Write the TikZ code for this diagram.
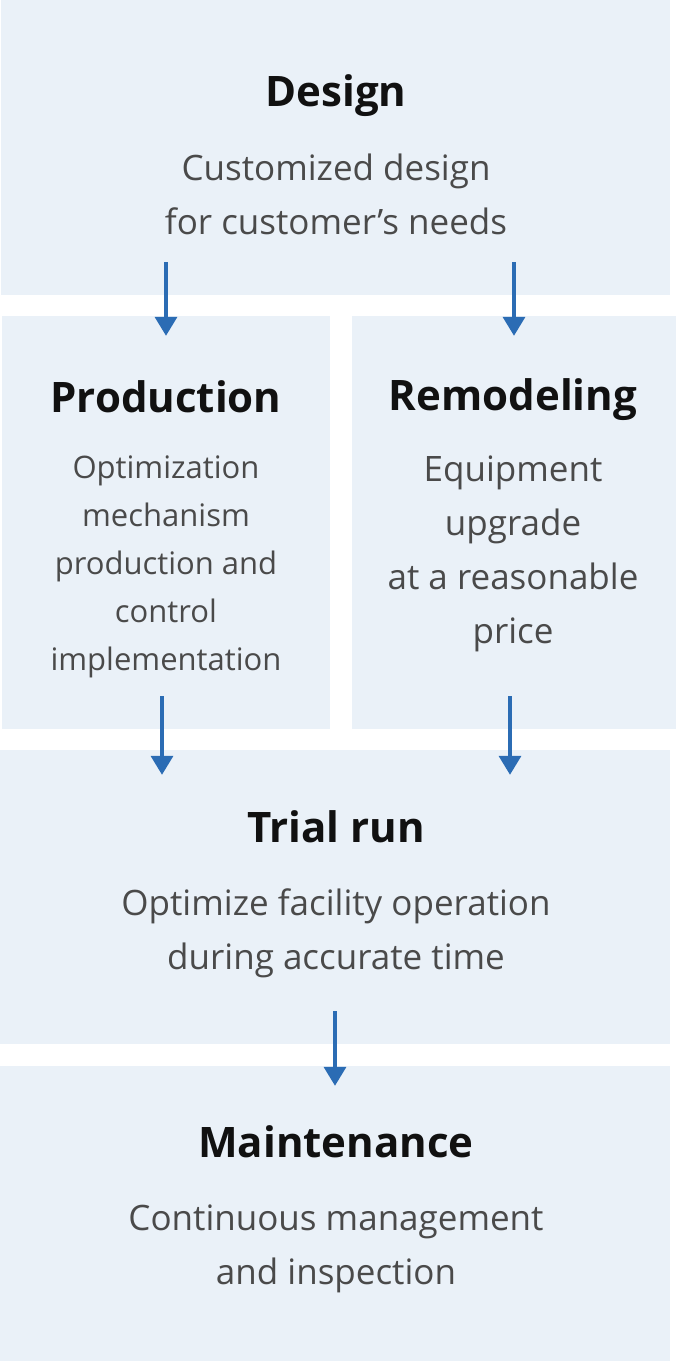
\documentclass[tikz,border=0pt]{standalone}
\usepackage{fontspec}
\setmainfont{Open Sans}
\usetikzlibrary{arrows.meta, positioning}
\usepackage{xcolor}
\definecolor{boxbg}{HTML}{EAF1F8}
\definecolor{flowblue}{HTML}{2B6CB4}
\definecolor{titletext}{HTML}{111111}
\definecolor{bodytext}{HTML}{4A4A4A}
\tikzset{
    stagebox/.style={
        rectangle, fill=boxbg, draw=none, inner sep=0pt
    },
    stagetitle/.style={
        anchor=base, inner sep=0pt, text=titletext,
        font=\bfseries\fontsize{42}{48}\selectfont
    },
    stagebody/.style={
        anchor=base, inner sep=0pt, align=center, text=bodytext,
        font=\fontsize{35}{54}\selectfont
    },
    narrowbody/.style={
        stagebody, font=\fontsize{31}{48}\selectfont
    },
    arrow/.style={
        -{Triangle[length=19pt, width=22pt]}, line width=3.5pt, draw=flowblue,
        shorten <=-33pt, shorten >=-20pt
    }
}
\begin{document}
\begin{tikzpicture}[x=1pt, y=1pt]

    % ── Canvas ──
    \fill[white] (0,0) rectangle (676,-1361);
    \useasboundingbox (0,0) rectangle (676,-1361);

    % ── Boxes ──
    \node[stagebox, minimum width=669pt, minimum height=295pt] (design)  at (335.5,-147.5) {};
    \node[stagebox, minimum width=328pt, minimum height=413pt] (prod)    at (166,-522.5)   {};
    \node[stagebox, minimum width=324pt, minimum height=413pt] (remod)   at (514,-522.5)   {};
    \node[stagebox, minimum width=670pt, minimum height=294pt] (trial)   at (335,-897)     {};
    \node[stagebox, minimum width=670pt, minimum height=295pt] (maint)   at (335,-1213.5)  {};

    % ── Texts (body nodes sit on their last baseline) ──
    \node[stagetitle] (designT) at (336,-106)  {Design};
    \node[stagebody]  (designB) at (336,-234)  {Customized design\\for customer’s needs};

    \node[stagetitle] (prodT)   at (166,-412)  {Production};
    \node[narrowbody] (prodB)   at (166,-670)  {Optimization\\mechanism\\production and\\control\\implementation};

    \node[stagetitle] (remodT)  at (513,-410)  {Remodeling};
    \node[stagebody]  (remodB)  at (513,-643)  {Equipment\\upgrade\\at a reasonable\\price};

    \node[stagetitle] (trialT)  at (336,-842)  {Trial run};
    \node[stagebody]  (trialB)  at (336,-969)  {Optimize facility operation\\during accurate time};

    \node[stagetitle] (maintT)  at (336,-1157) {Maintenance};
    \node[stagebody]  (maintB)  at (336,-1284) {Continuous management\\and inspection};

    % ── Arrows ──
    \draw[arrow] (design.south -| prod.north)  -- (prod.north);
    \draw[arrow] (design.south -| remod.north) -- (remod.north);
    \draw[arrow, shorten >=-25pt] ([xshift=-4pt]prod.south)  -- ([xshift=-4pt]prod.south |- trial.north);
    \draw[arrow, shorten >=-25pt] ([xshift=-4pt]remod.south) -- ([xshift=-4pt]remod.south |- trial.north);
    \draw[arrow] (trial.south) -- (maint.north);

\end{tikzpicture}
\end{document}
